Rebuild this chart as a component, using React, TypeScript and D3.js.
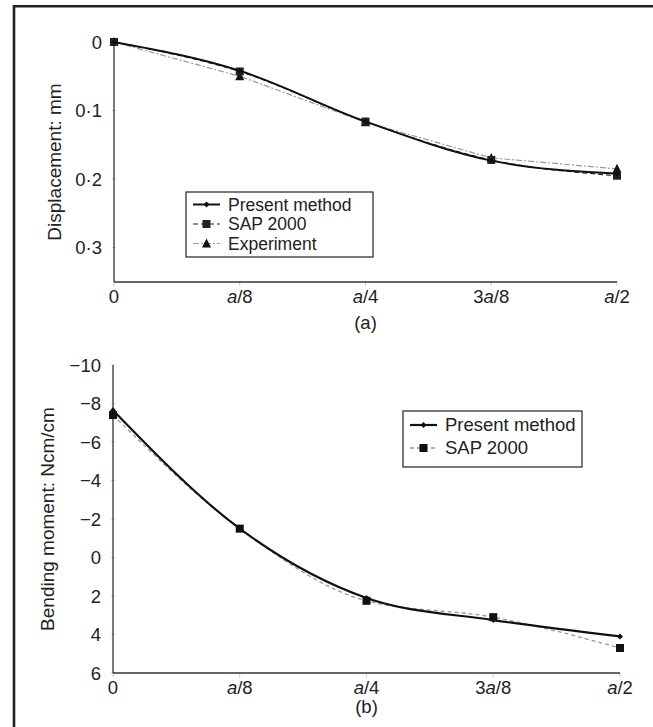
import React from "react";
import * as d3 from "d3";

const xLabels = ["0", "a/8", "a/4", "3a/8", "a/2"];
const xPos = [0, 1, 2, 3, 4];

// (a) displacement, mm
const dispPresent = [0, 0.042, 0.116, 0.173, 0.192];
const dispSAP = [0, 0.043, 0.116, 0.172, 0.195];
const dispExp = [0, 0.05, 0.117, 0.169, 0.185];
const dispTicks = [0, 0.1, 0.2, 0.3];

// (b) bending moment, Ncm/cm
const bmPresent = [-7.65, -1.5, 2.1, 3.25, 4.1];
const bmSAP = [-7.4, -1.5, 2.25, 3.1, 4.7];
const bmTicks = [-10, -8, -6, -4, -2, 0, 2, 4, 6];

const FONT = "'Liberation Sans', Arial, sans-serif";
const FS = 18.5;

function fmtDisp(v: number) {
  return v === 0 ? "0" : v.toFixed(1).replace(".", "\u00B7");
}
function fmtBm(v: number) {
  return v < 0 ? "\u2212" + Math.abs(v) : String(v);
}

function XLabel({ label, x, y }: { label: string; x: number; y: number }) {
  const m = label.match(/^(\d*)(a)(\/\d)$/);
  if (!m) {
    return (
      <text x={x} y={y} textAnchor="middle" fontSize={FS} fontFamily={FONT} fill="#222">
        {label}
      </text>
    );
  }
  return (
    <text x={x} y={y} textAnchor="middle" fontSize={FS} fontFamily={FONT} fill="#222">
      {m[1]}
      <tspan fontStyle="italic">{m[2]}</tspan>
      {m[3]}
    </text>
  );
}

function Marker({ type, x, y, color }: { type: string; x: number; y: number; color: string }) {
  if (type === "square") return <rect x={x - 4} y={y - 4} width={8} height={8} fill={color} />;
  if (type === "triangle")
    return <path d={`M${x},${y - 5}L${x + 4.5},${y + 4}L${x - 4.5},${y + 4}Z`} fill={color} />;
  return <path d={`M${x},${y - 3}L${x + 3},${y}L${x},${y + 3}L${x - 3},${y}Z`} fill={color} />;
}

type Series = {
  name: string;
  values: number[];
  color: string;
  width: number;
  dash?: string;
  marker: string;
  curve: d3.CurveFactory;
};

function Panel({
  x0, x1, yTop, yBot, domain, ticks, fmt, series, title, titleX, caption, captionY,
  legend,
}: {
  x0: number; x1: number; yTop: number; yBot: number; domain: [number, number];
  ticks: number[]; fmt: (v: number) => string; series: Series[]; title: string; titleX: number;
  caption: string; captionY: number;
  legend: { x: number; y: number; w: number; h: number; rowY: number[]; fs: number };
}) {
  const xs = d3.scaleLinear().domain([0, 4]).range([x0, x1]);
  const ys = d3.scaleLinear().domain(domain).range([yTop, yBot]);
  const ordered = [...series].reverse();
  return (
    <g>
      {ticks.map((t) => (
        <g key={"yt" + t}>
          <line x1={x0 - 2} x2={x0 + 2} y1={ys(t)} y2={ys(t)} stroke="#ccc" strokeWidth={1} />
          <text x={x0 - 12} y={ys(t) + 6.5} textAnchor="end" fontSize={FS} fontFamily={FONT} fill="#222">
            {fmt(t)}
          </text>
        </g>
      ))}
      {xPos.map((p, i) => (
        <g key={"xt" + p}>
          <line x1={xs(p)} x2={xs(p)} y1={yBot} y2={yBot + 4} stroke="#ccc" strokeWidth={1} />
          <XLabel label={xLabels[i]} x={xs(p)} y={yBot + 21} />
        </g>
      ))}
      <line x1={x0} x2={x0} y1={yTop} y2={yBot} stroke="#333" strokeWidth={1.3} />
      <line x1={x0} x2={x1} y1={yBot} y2={yBot} stroke="#333" strokeWidth={1.3} />
      <text
        transform={`translate(${titleX},${(yTop + yBot) / 2}) rotate(-90)`}
        textAnchor="middle"
        fontSize={FS + 0.5}
        fontFamily={FONT}
        fill="#222"
      >
        {title}
      </text>
      <text x={xs(2)} y={captionY} textAnchor="middle" fontSize={FS} fontFamily={FONT} fill="#222">
        {caption}
      </text>
      {ordered.map((s) => {
        const line = d3
          .line<number>()
          .x((_, i) => xs(xPos[i]))
          .y((v) => ys(v))
          .curve(s.curve);
        return (
          <g key={s.name}>
            <path d={line(s.values) || ""} fill="none" stroke={s.color} strokeWidth={s.width} strokeDasharray={s.dash} />
            {s.values.map((v, i) => (
              <Marker key={i} type={s.marker} x={xs(xPos[i])} y={ys(v)} color={s.color === "#999" ? "#111" : s.color} />
            ))}
          </g>
        );
      })}
      <rect x={legend.x} y={legend.y} width={legend.w} height={legend.h} fill="#fff" stroke="#333" strokeWidth={1.3} />
      {series.map((s, i) => {
        const ly = legend.rowY[i];
        const lx0 = legend.x + 7;
        const lx1 = legend.x + 34;
        return (
          <g key={"lg" + s.name}>
            <line x1={lx0} x2={lx1} y1={ly} y2={ly} stroke={s.color} strokeWidth={s.width} strokeDasharray={s.dash} />
            <Marker type={s.marker} x={(lx0 + lx1) / 2} y={ly} color={s.color === "#999" ? "#111" : s.color} />
            <text x={legend.x + 42} y={ly + legend.fs * 0.35} fontSize={legend.fs} fontFamily={FONT} fill="#222">
              {s.name}
            </text>
          </g>
        );
      })}
    </g>
  );
}

export default function App() {
  const seriesA: Series[] = [
    { name: "Present method", values: dispPresent, color: "#111", width: 2, marker: "diamond", curve: d3.curveMonotoneX },
    { name: "SAP 2000", values: dispSAP, color: "#222", width: 1.2, dash: "5,3", marker: "square", curve: d3.curveMonotoneX },
    { name: "Experiment", values: dispExp, color: "#999", width: 1.2, dash: "6,2,2,2", marker: "triangle", curve: d3.curveLinear },
  ];
  const seriesB: Series[] = [
    { name: "Present method", values: bmPresent, color: "#111", width: 2.2, marker: "diamond", curve: d3.curveMonotoneX },
    { name: "SAP 2000", values: bmSAP, color: "#999", width: 1.3, dash: "4,3", marker: "square", curve: d3.curveMonotoneX },
  ];
  return (
    <svg
      width={653}
      height={727}
      style={{ position: "absolute", left: 0, top: 0, display: "block", background: "#fff" }}
    >
      <rect x={0} y={0} width={653} height={727} fill="#fff" />
      <line x1={14} x2={653} y1={6.3} y2={6.3} stroke="#222" strokeWidth={2.6} />
      <line x1={14} x2={14} y1={5} y2={727} stroke="#222" strokeWidth={2.6} />
      <Panel
        x0={114}
        x1={617}
        yTop={42}
        yBot={282}
        domain={[0, 0.35]}
        ticks={dispTicks}
        fmt={fmtDisp}
        series={seriesA}
        title="Displacement: mm"
        titleX={61}
        caption="(a)"
        captionY={329}
        legend={{ x: 186, y: 192, w: 187, h: 65, rowY: [204.5, 224, 243.5], fs: 17.5 }}
      />
      <Panel
        x0={113}
        x1={620}
        yTop={365}
        yBot={673}
        domain={[-10, 6]}
        ticks={bmTicks}
        fmt={fmtBm}
        series={seriesB}
        title="Bending moment: Ncm/cm"
        titleX={54}
        caption="(b)"
        captionY={713}
        legend={{ x: 403, y: 411, w: 179, h: 56, rowY: [425, 448], fs: FS }}
      />
    </svg>
  );
}
